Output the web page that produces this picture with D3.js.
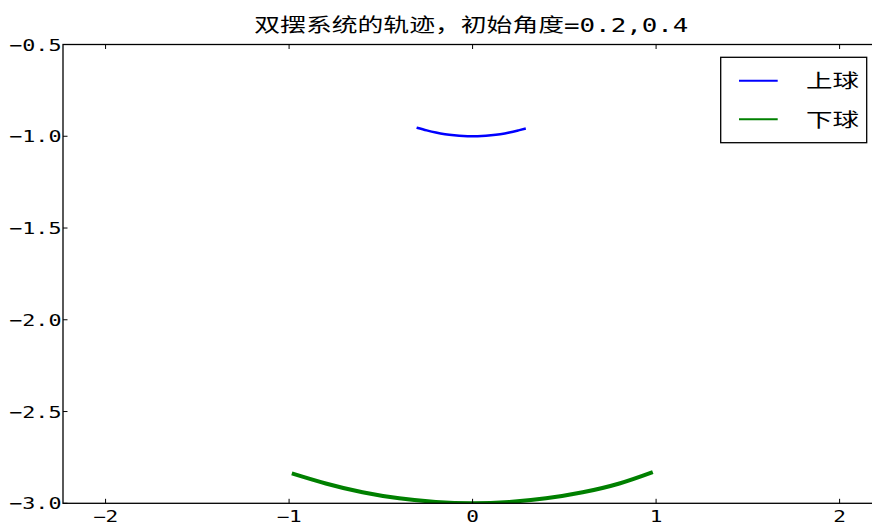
<!DOCTYPE html>
<html><head><meta charset="utf-8">
<script src="https://cdn.jsdelivr.net/npm/d3@7"></script>
<style>
html,body{margin:0;padding:0;background:#fff;}
svg{display:block;}
.mono{font-family:"DejaVu Sans Mono",monospace;}
</style></head>
<body><svg id="c" width="872" height="526"></svg>
<script>
// ---- data ----
const titleText = "双摆系统的轨迹，初始角度=0.2,0.4";
const seriesNames = ["上球", "下球"];
const seriesColors = ["#0000ff", "#008000"];
const upperX = [-0.305,-0.25,-0.2,-0.15,-0.1,-0.05,0,0.05,0.1,0.15,0.2,0.25,0.29];
const upperY = [-0.953,-0.968,-0.98,-0.989,-0.995,-0.999,-1.0,-0.999,-0.995,-0.989,-0.98,-0.968,-0.958];
const lowerX = [-0.985,-0.8,-0.6,-0.4,-0.2,0,0.2,0.4,0.6,0.8,0.982];
const lowerY = [-2.837,-2.892,-2.94,-2.973,-2.993,-3.0,-2.993,-2.973,-2.94,-2.892,-2.83];
const xTicks = [-2,-1,0,1,2];
const yTicks = [-0.5,-1.0,-1.5,-2.0,-2.5,-3.0];
const xTickLabels = ["−2","−1","0","1","2"];
const yTickLabels = ["−0.5","−1.0","−1.5","−2.0","−2.5","−3.0"];

const SX = 1.36; // horizontal stretch of the reference's glyphs
const svg = d3.select("#c");
svg.append("rect").attr("width",872).attr("height",526).attr("fill","#fff");

const L = 63, R = 879.6, T = 44.5, B = 503.3;
const x = d3.scaleLinear().domain([-2.232, 2.218]).range([L, R]);
const y = d3.scaleLinear().domain([-0.5, -3.0]).range([T, B]);

svg.append("defs").append("clipPath").attr("id","clip")
  .append("rect").attr("x",L).attr("y",T).attr("width",R-L).attr("height",B-T);

function sText(parent, px, py, str, anchor, size, cls){
  const g = parent.append("g").attr("transform",`translate(${px},${py}) scale(${SX},1)`);
  return g.append("text").attr("class",cls||"mono").attr("text-anchor",anchor)
    .attr("font-size",size).attr("fill","#000").text(str);
}

// lines
const line = d3.line().x(d=>x(d[0])).y(d=>y(d[1])).curve(d3.curveNatural);
const plot = svg.append("g").attr("clip-path","url(#clip)");
const upper = upperX.map((v,i)=>[v, upperY[i]]);
const lower = lowerX.map((v,i)=>[v, lowerY[i]]);
plot.append("path").datum(upper).attr("d",line).attr("fill","none")
  .attr("stroke",seriesColors[0]).attr("stroke-width",2.5);
plot.append("path").datum(lower).attr("d",line).attr("fill","none")
  .attr("stroke",seriesColors[1]).attr("stroke-width",4);

// frame
svg.append("rect").attr("x",L).attr("y",T).attr("width",R-L).attr("height",B-T)
  .attr("fill","none").attr("stroke","#000").attr("stroke-width",1.3);

// ticks (inward, all sides)
const tk = svg.append("g").attr("stroke","#000").attr("stroke-width",1);
xTicks.forEach(v=>{
  tk.append("line").attr("x1",x(v)).attr("x2",x(v)).attr("y1",B).attr("y2",B-4.5);
  tk.append("line").attr("x1",x(v)).attr("x2",x(v)).attr("y1",T).attr("y2",T+4.5);
});
yTicks.forEach(v=>{
  tk.append("line").attr("x1",L).attr("x2",L+4.5).attr("y1",y(v)).attr("y2",y(v));
  tk.append("line").attr("x1",R).attr("x2",R-4.5).attr("y1",y(v)).attr("y2",y(v));
});
// tick labels
xTicks.forEach((v,i)=>{
  sText(svg, x(v), 521.8, xTickLabels[i], "middle", 15.5);
});
yTicks.forEach((v,i)=>{
  sText(svg, 61.5, y(v)+6, yTickLabels[i], "end", 16);
});

// title
const tg = svg.append("g").attr("transform",`translate(${(L+R)/2},31.5) scale(${SX},1)`);
const tt = tg.append("text").attr("text-anchor","middle").attr("font-size",19)
  .attr("font-family","'DejaVu Sans Mono','Noto Sans CJK SC',sans-serif").attr("fill","#000");
tt.append("tspan").attr("font-family","'Noto Sans CJK SC',sans-serif").text(titleText.slice(0,12));
tt.append("tspan").text(titleText.slice(12));

// legend
const lg = svg.append("g");
lg.append("rect").attr("x",720.7).attr("y",57.3).attr("width",146).attr("height",85.4)
  .attr("fill","#fff").attr("stroke","#000").attr("stroke-width",1.3);
const legY = [80.7, 119.3];
seriesNames.forEach((n,i)=>{
  lg.append("line").attr("x1",739).attr("x2",777.7).attr("y1",legY[i]).attr("y2",legY[i])
    .attr("stroke",seriesColors[i]).attr("stroke-width",2);
  sText(lg, 806, legY[i]+7.5, n, "start", 19.5, "cjk")
    .attr("font-family","'Noto Sans CJK SC',sans-serif");
});
</script></body></html>
